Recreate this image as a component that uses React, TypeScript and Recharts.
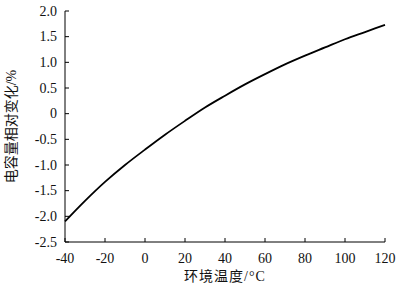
import { Line, LineChart, XAxis, YAxis } from 'recharts';

const temperatures = [-40, -30, -20, -10, 0, 10, 20, 30, 40, 50, 60, 70, 80, 90, 100, 110, 120];
const capacitanceChange = [-2.1, -1.7, -1.33, -1.0, -0.7, -0.41, -0.14, 0.12, 0.35, 0.57, 0.77, 0.96, 1.13, 1.29, 1.45, 1.59, 1.73];
const xTicks = [-40, -20, 0, 20, 40, 60, 80, 100, 120];
const yTicks = [-2.5, -2.0, -1.5, -1.0, -0.5, 0, 0.5, 1.0, 1.5, 2.0];

const data = temperatures.map((t, i) => ({ t, v: capacitanceChange[i] }));

const FONT = '"Liberation Serif", "Noto Sans CJK SC", serif';
const TICK = 4; // inward tick length

function XTick(props: any) {
  const { x, y, payload } = props;
  return (
    <text x={x} y={y + TICK + 16} textAnchor="middle" dominantBaseline="central" fontSize={14} fontFamily={FONT} fill="#111">
      {payload.value}
    </text>
  );
}

function YTick(props: any) {
  const { x, y, payload } = props;
  const v = Number(payload.value);
  return (
    <text x={x - TICK - 8} y={y} textAnchor="end" dominantBaseline="central" fontSize={14} fontFamily={FONT} fill="#111">
      {v === 0 ? '0' : v.toFixed(1)}
    </text>
  );
}

export default function App() {
  return (
    <div style={{ position: 'absolute', left: 0, top: 0, width: 404, height: 285, background: '#fff' }}>
      <LineChart width={404} height={285} data={data} margin={{ top: 11, right: 19, left: 0, bottom: 0 }}>
        <XAxis
          dataKey="t"
          type="number"
          domain={[-40, 120]}
          ticks={xTicks}
          height={43}
          tickSize={-TICK}
          tickMargin={0}
          tickLine={{ stroke: '#000', strokeWidth: 1 }}
          axisLine={{ stroke: '#000', strokeWidth: 1 }}
          tick={<XTick />}
          interval={0}
          label={{
            content: (p: any) => {
              const vb = p.viewBox;
              return (
                <text
                  x={vb.x + vb.width / 2}
                  y={vb.y + 34}
                  textAnchor="middle"
                  dominantBaseline="central"
                  fontSize={14}
                  fontFamily={FONT}
                  letterSpacing={1}
                  fill="#111"
                >
                  环境温度/°C
                </text>
              );
            },
          }}
        />
        <YAxis
          type="number"
          domain={[-2.5, 2]}
          ticks={yTicks}
          width={65}
          tickSize={-TICK}
          tickMargin={0}
          tickLine={{ stroke: '#000', strokeWidth: 1 }}
          axisLine={{ stroke: '#000', strokeWidth: 1 }}
          tick={<YTick />}
          interval={0}
          label={{
            content: (p: any) => {
              const vb = p.viewBox;
              const cx = vb.x + 11;
              const cy = vb.y + vb.height / 2;
              return (
                <text
                  x={cx}
                  y={cy}
                  transform={`rotate(-90 ${cx} ${cy})`}
                  textAnchor="middle"
                  dominantBaseline="central"
                  fontSize={14}
                  fontFamily={FONT}
                  fill="#111"
                >
                  电容量相对变化/%
                </text>
              );
            },
          }}
        />
        <Line type="monotone" dataKey="v" stroke="#000" strokeWidth={1.8} dot={false} isAnimationActive={false} />
      </LineChart>
    </div>
  );
}
